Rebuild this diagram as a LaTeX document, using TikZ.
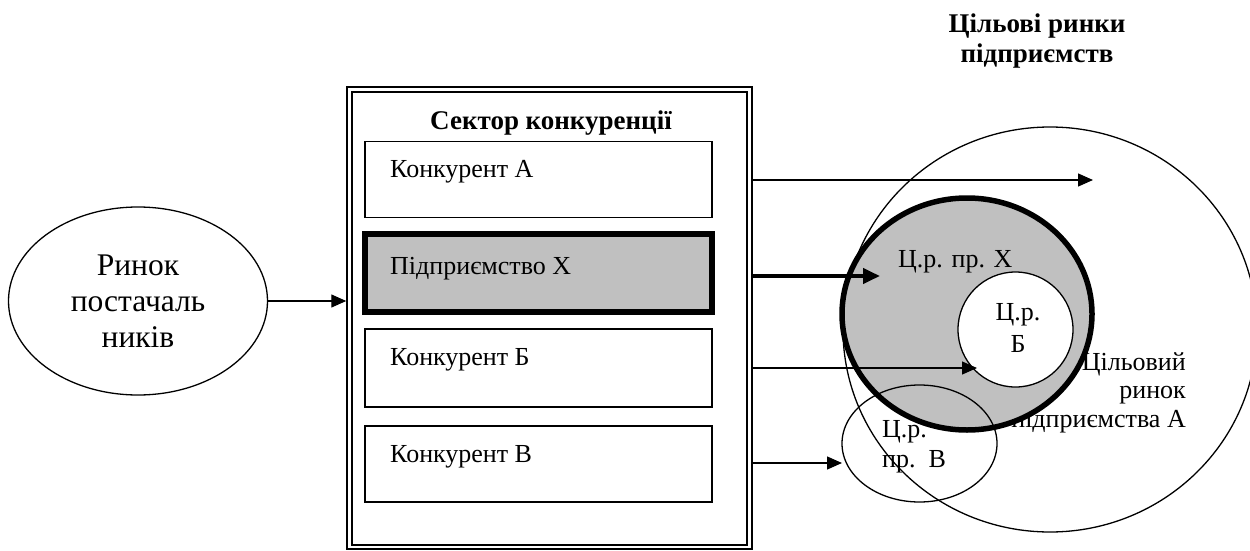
\documentclass[tikz,border=0pt]{standalone}
\usepackage{fontspec}
\setmainfont{Liberation Serif}
\usetikzlibrary{arrows.meta,shapes.geometric}
\definecolor{fillgray}{RGB}{192,192,192}
\begin{document}
\begin{tikzpicture}[x=1pt,y=-1pt,
  framebox/.style={draw, line width=1.5pt, inner sep=0pt},
  compbox/.style={draw, line width=1.3pt, minimum width=347pt, minimum height=76pt, inner sep=0pt},
  firmbox/.style={draw, line width=6pt, fill=fillgray, minimum width=347pt, minimum height=78pt, inner sep=0pt},
  txt/.style={font=\fontsize{26}{30}\selectfont, inner sep=0pt},
  boldtxt/.style={font=\bfseries\fontsize{27}{30}\selectfont, inner sep=0pt},
  thinarr/.style={line width=1.3pt, -{Triangle[length=15pt,width=13pt]}},
  thickarr/.style={line width=4pt, -{Triangle[length=17pt,width=15pt]}},
  oval/.style={draw, ellipse, line width=1.3pt, inner sep=0pt}
]
\useasboundingbox (0,0) rectangle (1250,551);

% supplier market
\node[oval, minimum width=259pt, minimum height=188pt, align=center,
      font=\fontsize{31.5}{36}\selectfont] (sup) at (138,301) {Ринок\\постачаль\\ників};

% competition sector frame
\node[framebox, minimum width=405pt, minimum height=462pt] (frame) at (549.5,318) {};
\node[framebox, minimum width=395pt, minimum height=453pt] (frameinner) at (549.5,318.5) {};
\node[boldtxt, anchor=base] (sectitle) at (551,129) {Сектор конкуренції};

\node[compbox] (boxA) at (538.5,179.5) {};
\node[firmbox] (boxX) at (538.5,273) {};
\node[compbox, minimum height=78pt] (boxB) at (538.5,368) {};
\node[compbox] (boxV) at (538.5,464) {};

\node[txt, anchor=base west] (tA) at (390,177) {Конкурент А};
\node[txt, anchor=base west] (tX) at (390,274) {Підприємство X};
\node[txt, anchor=base west] (tB) at (390,365) {Конкурент Б};
\node[txt, anchor=base west] (tV) at (390,462) {Конкурент В};

% target markets
\node[boldtxt, align=center, anchor=base] (mtitle) at (1037,63) {Цільові ринки\\підприємств};

\node[oval, minimum width=414pt, minimum height=405pt] (mktA) at (1050,329.5) {};
\node[txt, align=right, anchor=base east, font=\fontsize{26}{28.5}\selectfont] (tmktA) at (1186,427) {Цільовий\\ринок\\підприємства А};
\node[draw, ellipse, line width=5.5pt, fill=fillgray, minimum width=250pt, minimum height=232pt, inner sep=0pt] (mktX) at (967,314) {};
\node[draw, circle, line width=1.3pt, fill=white, minimum size=115pt, inner sep=0pt] (mktB) at (1015.5,329.5) {};
\node[oval, minimum width=155pt, minimum height=117pt] (mktV) at (919.5,443.5) {};

\node[txt, anchor=base west] (tmX) at (898,267) {Ц.р. пр. X};
\node[txt, align=center, anchor=base, font=\fontsize{26}{32}\selectfont] (tmB) at (1018,352) {Ц.р.\\Б};
\node[txt, align=left, anchor=base west] (tmV) at (882,467) {Ц.р.\\пр.~~В};

% arrows
\coordinate (tipA) at (1093,180);
\coordinate (tipX) at (880,276);
\coordinate (tipB) at (977,368);
\coordinate (tipV) at (842,463);

\draw[thinarr] (sup.east) -- (sup.east -| frame.west);
\draw[thinarr] (frame.east |- tipA) -- (tipA);
\draw[thickarr] (frame.east |- tipX) -- (tipX);
\draw[thinarr] (frame.east |- tipB) -- (tipB);
\draw[thinarr] (frame.east |- tipV) -- (tipV);
\end{tikzpicture}
\end{document}
